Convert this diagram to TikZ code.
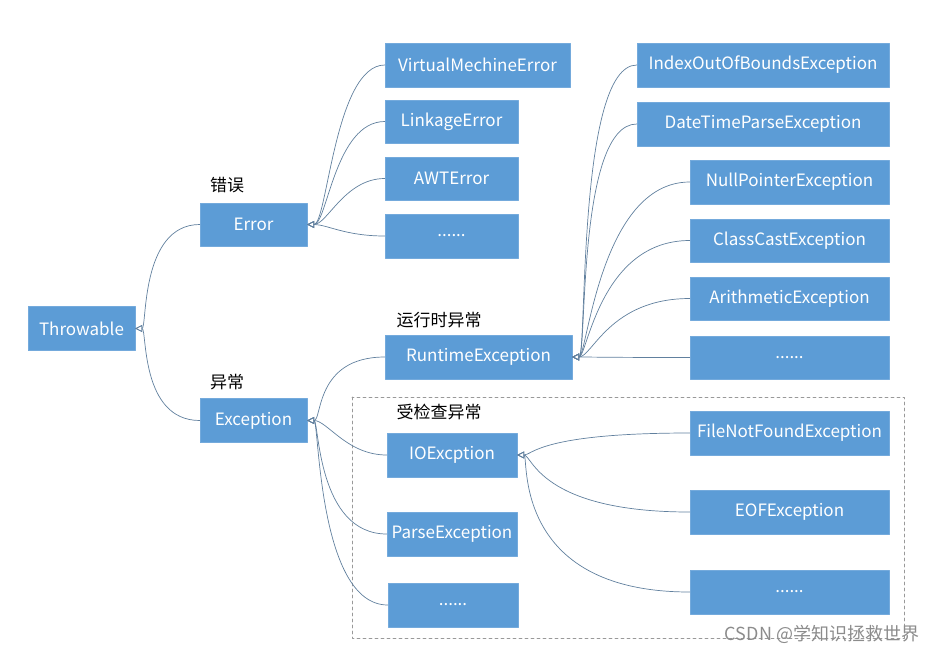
\documentclass[tikz,border=0pt]{standalone}
\usepackage{fontspec}
\setmainfont{Noto Sans CJK SC}
\usetikzlibrary{arrows.meta}
\definecolor{boxblue}{rgb}{0.36,0.61,0.84}
\definecolor{lineblue}{rgb}{0.38,0.5,0.62}
\definecolor{dashgray}{rgb}{0.6,0.6,0.6}

\begin{document}
\begin{tikzpicture}[line cap=round,line join=round,x=1pt,y=-1pt,
  >={Triangle[open,length=7pt,width=7pt]},
  box/.style={rectangle,fill=boxblue,draw=boxblue!85!white,text=white,inner sep=0pt,minimum height=44pt,font=\fontsize{17}{20}\selectfont},
  link/.style={draw=lineblue,line width=0.7pt,->},
  tag/.style={font=\fontsize{17}{20}\selectfont}]
\useasboundingbox (0,0) rectangle (941,654);
\draw [dashed,dashgray,line width=0.7pt] (352,397) rectangle (904,638);
% root and first level
\node[box,minimum width=107pt] (throw) at (81.5,328.5) {Throwable};
\node[box,minimum width=107pt,minimum height=43pt] (error) at (253.5,224.5) {Error};
\node[box,minimum width=107pt] (exc) at (253.5,420.5) {Exception};
% errors
\node[box,minimum width=185pt] (vme) at (477.5,65) {VirtualMechineError};
\node[box,minimum width=133pt,minimum height=43pt] (linkage) at (451.5,121.5) {LinkageError};
\node[box,minimum width=133pt,minimum height=43pt] (awt) at (451.5,178.5) {AWTError};
\node[box,minimum width=133pt] (errmore) at (451.5,236) {......};
% exceptions
\node[box,minimum width=187pt] (runtime) at (478.5,357) {RuntimeException};
\node[box,minimum width=130pt] (ioe) at (452,455) {IOExcption};
\node[box,minimum width=130pt] (parse) at (452,534) {ParseException};
\node[box,minimum width=130pt] (excmore) at (453,605) {......};
% runtime exceptions
\node[box,minimum width=252pt] (index) at (763,65) {IndexOutOfBoundsException};
\node[box,minimum width=252pt] (datetime) at (763,124) {DateTimeParseException};
\node[box,minimum width=199pt] (nullp) at (789.5,182) {NullPointerException};
\node[box,minimum width=199pt,minimum height=43pt] (classcast) at (789.5,240.5) {ClassCastException};
\node[box,minimum width=199pt,minimum height=43pt] (arith) at (789.5,298.5) {ArithmeticException};
\node[box,minimum width=199pt,minimum height=43pt] (rtmore) at (789.5,357.5) {......};
% io exceptions
\node[box,minimum width=199pt] (filenf) at (789.5,433) {FileNotFoundException};
\node[box,minimum width=199pt] (eof) at (789.5,512) {EOFException};
\node[box,minimum width=199pt] (iomore) at (789.5,592) {......};
% labels
\node[tag] (errtag) at (227,185) {错误};
\node[tag] (exctag) at (227,382) {异常};
\node[tag] (rttag) at (439,320) {运行时异常};
\node[tag] (chktag) at (439,412) {受检查异常};
\node[font=\fontsize{18}{20}\selectfont,text=black!45] (mark) at (822,634) {CSDN @学知识拯救世界};
% connectors
\draw[link] (error.west) .. controls +(-60,0) and +(12,0) .. (throw.east);
\draw[link] (exc.west) .. controls +(-60,0) and +(12,0) .. (throw.east);
\draw[link] (vme.west) .. controls +(-50,0) and +(20,0) .. (error.east);
\draw[link] (linkage.west) .. controls +(-50,0) and +(20,0) .. (error.east);
\draw[link] (awt.west) .. controls +(-40,0) and +(20,0) .. (error.east);
\draw[link] (errmore.west) .. controls +(-40,0) and +(20,0) .. (error.east);
\draw[link] (runtime.west) .. controls +(-70,0) and +(15,0) .. (exc.east);
\draw[link] (ioe.west) .. controls +(-40,0) and +(20,0) .. (exc.east);
\draw[link] (parse.west) .. controls +(-70,0) and +(12,0) .. (exc.east);
\draw[link] (excmore.west) .. controls +(-70,0) and +(12,0) .. (exc.east);
\draw[link] (index.west) .. controls +(-60,0) and +(15,0) .. (runtime.east);
\draw[link] (datetime.west) .. controls +(-60,0) and +(15,0) .. (runtime.east);
\draw[link] (nullp.west) .. controls +(-90,0) and +(15,0) .. (runtime.east);
\draw[link] (classcast.west) .. controls +(-90,0) and +(15,0) .. (runtime.east);
\draw[link] (arith.west) .. controls +(-80,0) and +(20,0) .. (runtime.east);
\draw[link] (rtmore.west) .. controls +(-80,0) and +(20,0) .. (runtime.east);
\draw[link] (filenf.west) .. controls +(-150,0) and +(15,0) .. (ioe.east);
\draw[link] (eof.west) .. controls +(-150,0) and +(15,0) .. (ioe.east);
\draw[link] (iomore.west) .. controls +(-180,0) and +(12,0) .. (ioe.east);
\end{tikzpicture}
\end{document}
